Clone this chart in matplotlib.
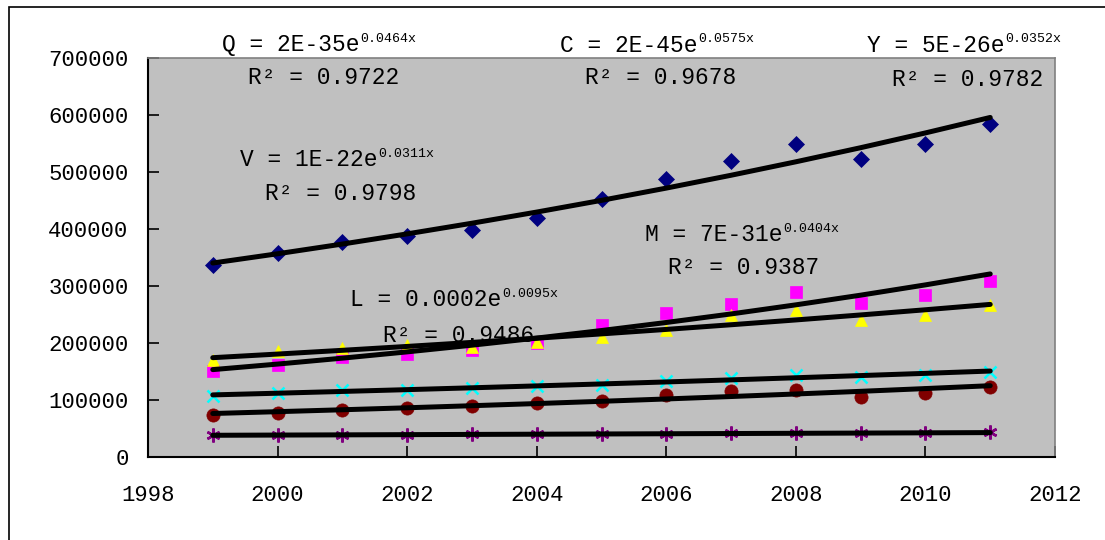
import numpy as np
import matplotlib
matplotlib.use("Agg")
import matplotlib.pyplot as plt
from matplotlib.patches import Rectangle
from matplotlib.transforms import offset_copy

years = np.arange(1999, 2012)

# values
q_blue = [337000, 358000, 378000, 387000, 398000, 420000, 452000,
          487000, 520000, 550000, 523000, 550000, 585000]
c_magenta = [151000, 161000, 176000, 181000, 188000, 200000, 232000,
             253000, 268000, 290000, 271000, 285000, 308000]
y_yellow = [170000, 186000, 191000, 196000, 193000, 202000, 211000,
            223000, 249000, 258000, 240000, 249000, 267000]
v_cyan = [107000, 112000, 117000, 118000, 121000, 124000, 127000,
          133000, 138000, 144000, 140000, 144000, 150000]
m_darkred = [74000, 78000, 82000, 86500, 89500, 94000, 99000,
             109000, 115000, 117500, 106000, 113000, 123000]
l_purple = [38000, 38500, 39000, 39000, 39500, 40000, 40500,
            41000, 41500, 42000, 41500, 42000, 43000]

series = [
    (q_blue, 'D', '#000080', 8.5),
    (c_magenta, 's', '#FF00FF', 8.5),
    (y_yellow, '^', '#FFFF00', 8.5),
    (v_cyan, 'x', '#00FFFF', 8),
    (l_purple, (6, 2, 0), '#800080', 10),
    (m_darkred, 'o', '#800000', 9.5),
]

# equation text, exponent, R2 text and their pixel spots
labels = [
    ("Q = 2E-35e", "0.0464x", "R² = 0.9722", 222, 45, 248, 78),
    ("C = 2E-45e", "0.0575x", "R² = 0.9678", 560, 45, 585, 78),
    ("Y = 5E-26e", "0.0352x", "R² = 0.9782", 867, 45, 892, 80),
    ("V = 1E-22e", "0.0311x", "R² = 0.9798", 240, 160, 265, 193),
    ("M = 7E-31e", "0.0404x", "R² = 0.9387", 645, 235, 668, 267),
    ("L = 0.0002e", "0.0095x", "R² = 0.9486", 350, 300, 383, 335),
]

W, H = 1105, 540
fig = plt.figure(figsize=(W / 100, H / 100), dpi=100)
fig.patches.append(Rectangle((9 / W, -10 / H), 1110 / W, 543 / H, transform=fig.transFigure,
                             fill=False, edgecolor='black', linewidth=1.2))

ax = fig.add_axes([148 / W, (H - 457) / H, (1055 - 148) / W, (457 - 58) / H])
ax.set_facecolor('#C0C0C0')

for vals, mk, col, ms in series:
    ax.plot(years, vals, linestyle='none', marker=mk, color=col, markersize=ms,
            markeredgewidth=1.8 if mk in ('x', (6, 2, 0)) else 0.5, zorder=2)

# exponential trend lines
for vals, mk, col, ms in series:
    b, a = np.polyfit(years, np.log(vals), 1)
    ax.plot(years, np.exp(a + b * years), color='black', linewidth=3.6,
            solid_capstyle='round', zorder=3)

ax.set_xlim(1998, 2012)
ax.set_ylim(0, 700000)
ax.set_xticks(np.arange(1998, 2013, 2))
ax.set_yticks(np.arange(0, 700001, 100000))
ax.tick_params(direction='in', length=8, width=1.2, labelsize=16, color='black')
ax.tick_params(axis='y', pad=14)
ax.tick_params(axis='x', pad=20)
for lab in ax.get_xticklabels() + ax.get_yticklabels():
    lab.set_fontfamily('Liberation Mono')
for s in ['left', 'bottom']:
    ax.spines[s].set_linewidth(1.5)
for s in ['top', 'right']:
    ax.spines[s].set_color('#808080')
    ax.spines[s].set_linewidth(1.2)

fig.canvas.draw()
renderer = fig.canvas.get_renderer()
for eq, ex, r2, x1, y1, x2, y2 in labels:
    t = ax.text(x1 / W, 1 - y1 / H, eq, fontsize=16.5, family='Liberation Mono',
                va='center', ha='left', zorder=2.5, transform=fig.transFigure)
    bb = t.get_window_extent(renderer)
    ax.text(bb.x1 / W + 1 / W, 1 - y1 / H + 6 / H, ex, fontsize=9.5,
            family='Liberation Mono', va='center', ha='left', zorder=2.5,
            transform=fig.transFigure)
    ax.text(x2 / W, 1 - y2 / H, r2, fontsize=16.5, family='Liberation Mono',
            va='center', ha='left', zorder=2.5, transform=fig.transFigure)

fig.savefig('out.png', dpi=100)
